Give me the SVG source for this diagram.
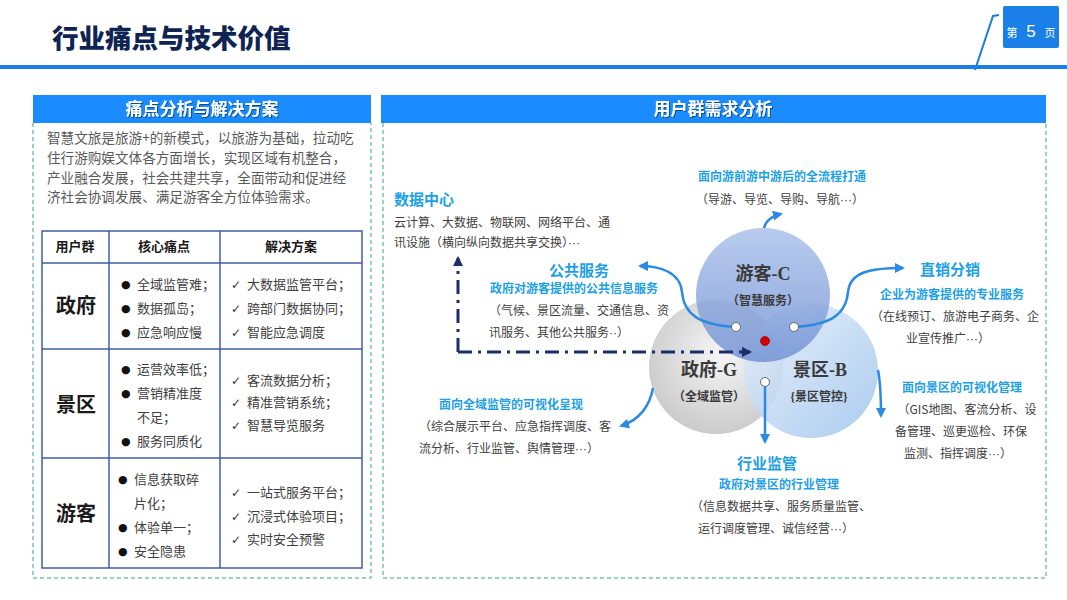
<svg xmlns="http://www.w3.org/2000/svg" width="1067" height="600" viewBox="0 0 1067 600">
<defs>
<style>
.cjk{font-family:"Noto Sans CJK SC","Noto Sans",sans-serif}
.t{font-family:"Noto Sans CJK SC","Noto Sans",sans-serif;font-size:13px;fill:#404040}
.p{font-family:"Noto Sans CJK SC","Noto Sans",sans-serif;font-size:13.6px;fill:#595959}
.b{font-family:"Noto Sans CJK SC","Noto Sans",sans-serif;font-weight:700;fill:#1a1a1a}
.hd{font-family:"Noto Sans CJK SC","Noto Sans",sans-serif;font-weight:700;font-size:17px;fill:#ffffff}
.ck{font-family:"DejaVu Sans",sans-serif;font-size:12px;fill:#333}
.bu{font-family:"DejaVu Sans",sans-serif;font-size:11px;fill:#111}
.g{font-family:"Noto Sans CJK SC","Noto Sans",sans-serif;font-size:12px;fill:#404040}
.el{font-family:"Liberation Sans",sans-serif}
.c1{font-family:"Noto Sans CJK SC","Noto Sans",sans-serif;font-weight:700;font-size:15px;fill:#1ca0e6}
.c2{font-family:"Noto Sans CJK SC","Noto Sans",sans-serif;font-weight:700;font-size:12px;fill:#1ca0e6}
.cl{font-family:"Liberation Serif","Noto Sans CJK SC",serif;font-weight:700;fill:#3a3a3a}
.dash{fill:none;stroke:#2aa78c;stroke-width:1;stroke-dasharray:4 3}
.tb{stroke:#3f5da8;stroke-width:1.5;fill:none}
.arr{fill:none;stroke:#2b8be3;stroke-width:2.5}
.dot{fill:#fff;stroke:#666;stroke-width:1}
</style>
<marker id="ab" viewBox="0 0 10 10" refX="8" refY="5" markerWidth="4" markerHeight="4" orient="auto"><path d="M0,0 L10,5 L0,10 z" fill="#2b8be3"/></marker>
<marker id="an" viewBox="0 0 10 10" refX="8" refY="5" markerWidth="3.5" markerHeight="3.5" orient="auto"><path d="M0,0 L10,5 L0,10 z" fill="#1b2e6b"/></marker>
<linearGradient id="gc" x1="0" y1="0" x2="0" y2="1"><stop offset="0" stop-color="#a9c0ea"/><stop offset="1" stop-color="#6f8fd2"/></linearGradient>
<radialGradient id="gg" cx="0.55" cy="0.4" r="0.65"><stop offset="0" stop-color="#f6f6f6"/><stop offset="1" stop-color="#c8c8c8"/></radialGradient>
<linearGradient id="gb" x1="0" y1="0" x2="1" y2="1"><stop offset="0" stop-color="#e6f0fa"/><stop offset="1" stop-color="#9cc2ec"/></linearGradient>
<filter id="sh" x="-5%" y="-20%" width="110%" height="140%"><feDropShadow dx="1" dy="1" stdDeviation="0.6" flood-color="#000" flood-opacity="0.45"/></filter>
</defs>
<rect width="1067" height="600" fill="#ffffff"/>

<g id="title">
<text x="52" y="48" class="cjk" font-size="26.5" font-weight="900" fill="#0e2452">行业痛点与技术价值</text>
<rect x="0" y="65" width="1067" height="4" fill="#1a7fe0"/>
<path d="M975,70 L993,16 L999,15" fill="none" stroke="#1a7fe0" stroke-width="2"/>
<rect x="1003" y="6" width="56" height="42" rx="2" fill="#1a80e8"/>
<text x="1012" y="37" class="cjk" font-size="11" fill="#fff" text-anchor="middle">第</text>
<text x="1031" y="37" font-family="Liberation Sans,sans-serif" font-size="17" fill="#fff" text-anchor="middle">5</text>
<text x="1050" y="37" class="cjk" font-size="11" fill="#fff" text-anchor="middle">页</text>
</g>

<g id="left-panel">
<rect x="33" y="95" width="338" height="28" fill="#1a8cff"/>
<text x="202" y="115" class="hd" text-anchor="middle" filter="url(#sh)">痛点分析与解决方案</text>
<path class="dash" d="M33,123 V578 H371 V123"/>
<text class="p" x="47" y="143">智慧文旅是旅游+的新模式，以旅游为基础，拉动吃</text>
<text class="p" x="47" y="163">住行游购娱文体各方面增长，实现区域有机整合，</text>
<text class="p" x="47" y="183">产业融合发展，社会共建共享，全面带动和促进经</text>
<text class="p" x="47" y="202">济社会协调发展、满足游客全方位体验需求。</text>
</g>

<g id="table">
<rect class="tb" x="42" y="231" width="320" height="337"/>
<path class="tb" d="M109,231 V568 M220,231 V568 M42,263 H362 M42,349 H362 M42,458 H362"/>
<g class="b" font-size="13" text-anchor="middle">
<text x="75" y="251">用户群</text><text x="164" y="251">核心痛点</text><text x="291" y="251">解决方案</text>
</g>
<g class="b" font-size="20" text-anchor="middle">
<text x="76" y="313">政府</text><text x="76" y="412">景区</text><text x="76" y="521">游客</text>
</g>
<g class="bu">
<text x="121" y="288">●</text><text x="121" y="312">●</text><text x="121" y="336">●</text>
<text x="121" y="373">●</text><text x="121" y="397">●</text><text x="121" y="445">●</text>
<text x="118" y="483">●</text><text x="118" y="531">●</text><text x="118" y="555">●</text>
</g>
<g class="t" font-size="13">
<text x="137" y="289">全域监管难；</text>
<text x="137" y="313">数据孤岛；</text>
<text x="137" y="337">应急响应慢</text>
<text x="137" y="374">运营效率低；</text>
<text x="137" y="398">营销精准度</text>
<text x="137" y="422">不足；</text>
<text x="137" y="446">服务同质化</text>
<text x="134" y="484">信息获取碎</text>
<text x="134" y="508">片化；</text>
<text x="134" y="532">体验单一；</text>
<text x="134" y="556">安全隐患</text>
<text x="247" y="289">大数据监管平台；</text>
<text x="247" y="313">跨部门数据协同；</text>
<text x="247" y="337">智能应急调度</text>
<text x="247" y="385">客流数据分析；</text>
<text x="247" y="407">精准营销系统；</text>
<text x="247" y="430">智慧导览服务</text>
<text x="247" y="497">一站式服务平台；</text>
<text x="247" y="521">沉浸式体验项目；</text>
<text x="247" y="544">实时安全预警</text>
</g>
<g class="ck">
<text x="231" y="289">✓</text><text x="231" y="313">✓</text><text x="231" y="337">✓</text>
<text x="231" y="385">✓</text><text x="231" y="407">✓</text><text x="231" y="430">✓</text>
<text x="231" y="497">✓</text><text x="231" y="521">✓</text><text x="231" y="544">✓</text>
</g>
</g>

<g id="right-panel">
<rect x="381" y="95" width="665" height="28" fill="#1a8cff"/>
<text x="713" y="115" class="hd" text-anchor="middle" filter="url(#sh)">用户群需求分析</text>
<path class="dash" d="M383,123 V578 H1046 V123"/>
</g>

<g id="circles">
<circle cx="716" cy="367" r="67" fill="url(#gg)"/>
<circle cx="811" cy="371" r="67" fill="url(#gb)" opacity="0.85"/>
<circle cx="763" cy="295" r="67" fill="url(#gc)" opacity="0.82"/>
<text x="763" y="280" class="cl" font-size="18" text-anchor="middle">游客-C</text>
<text x="763" y="305" class="cl" font-size="12" text-anchor="middle">（智慧服务）</text>
<text x="709" y="376" class="cl" font-size="18" text-anchor="middle">政府-G</text>
<text x="709" y="401" class="cl" font-size="12" text-anchor="middle">（全域监管）</text>
<text x="820" y="376" class="cl" font-size="18" text-anchor="middle">景区-B</text>
<text x="819" y="401" class="cl" font-size="12" text-anchor="middle">{景区管控}</text>
</g>

<g id="connectors">
<path d="M458,352 V258" fill="none" stroke="#1b2e6b" stroke-width="3" stroke-dasharray="14 6 3 6" marker-end="url(#an)"/>
<path d="M458,352 H750" fill="none" stroke="#1b2e6b" stroke-width="3" stroke-dasharray="14 6 3 6" marker-end="url(#an)"/>
<path class="arr" d="M736,327 C700,325 684,315 682,292 C680,272 660,266 640,266" marker-end="url(#ab)"/>
<path class="arr" d="M794,327 C830,325 846,315 848,292 C850,272 870,268 903,268" marker-end="url(#ab)"/>
<path class="arr" d="M764,228 C766,220 772,216 781,214" marker-end="url(#ab)"/>
<path class="arr" d="M765,382 V442" marker-end="url(#ab)"/>
<path class="arr" d="M653,388 C650,405 640,420 621,426" marker-end="url(#ab)"/>
<path class="arr" d="M878,370 C881,385 881,400 881,416" marker-end="url(#ab)"/>
<circle class="dot" cx="736" cy="327" r="4.5"/>
<circle class="dot" cx="794" cy="327" r="4.5"/>
<circle class="dot" cx="765" cy="382" r="4.5"/>
<circle cx="765" cy="341" r="4.5" fill="#d00000" stroke="#a00" stroke-width="0.8"/>
</g>

<g id="label-data">
<text class="c1" x="394" y="205">数据中心</text>
<text class="g" font-size="11" x="394" y="227">云计算、大数据、物联网、网络平台、通</text>
<text class="g" font-size="11" x="394" y="247">讯设施（横向纵向数据共享交换）<tspan class="el">···</tspan></text>
</g>
<g id="label-public">
<text class="c1" x="579" y="276" text-anchor="middle">公共服务</text>
<text class="c2" x="574" y="293" text-anchor="middle">政府对游客提供的公共信息服务</text>
<text class="g" x="489" y="315">（气候、景区流量、交通信息、资</text>
<text class="g" x="489" y="337">讯服务、其他公共服务<tspan class="el">··</tspan>）</text>
</g>
<g id="label-tour">
<text class="c2" x="782" y="181" text-anchor="middle">面向游前游中游后的全流程打通</text>
<text class="g" x="780" y="204" text-anchor="middle">（导游、导览、导购、导航<tspan class="el">···</tspan>）</text>
</g>
<g id="label-sales">
<text class="c1" x="950" y="275" text-anchor="middle">直销分销</text>
<text class="c2" x="952" y="299" text-anchor="middle">企业为游客提供的专业服务</text>
<text class="g" x="955" y="321" text-anchor="middle">（在线预订、旅游电子商务、企</text>
<text class="g" x="948" y="343" text-anchor="middle">业宣传推广<tspan class="el">···</tspan>）</text>
</g>
<g id="label-scenic">
<text class="c2" x="962" y="392" text-anchor="middle">面向景区的可视化管理</text>
<text class="g" x="967" y="414" text-anchor="middle">（GIS地图、客流分析、设</text>
<text class="g" x="961" y="436" text-anchor="middle">备管理、巡更巡检、环保</text>
<text class="g" x="958" y="458" text-anchor="middle">监测、指挥调度<tspan class="el">···</tspan>）</text>
</g>
<g id="label-gov">
<text class="c2" x="511" y="409" text-anchor="middle">面向全域监管的可视化呈现</text>
<text class="g" x="419" y="431">（综合展示平台、应急指挥调度、客</text>
<text class="g" x="419" y="453">流分析、行业监管、舆情管理<tspan class="el">···</tspan>）</text>
</g>
<g id="label-industry">
<text class="c1" x="767" y="469" text-anchor="middle">行业监管</text>
<text class="c2" x="779" y="489" text-anchor="middle">政府对景区的行业管理</text>
<text class="g" x="781" y="511" text-anchor="middle">（信息数据共享、服务质量监管、</text>
<text class="g" x="776" y="533" text-anchor="middle">运行调度管理、诚信经营<tspan class="el">···</tspan>）</text>
</g>
</svg>
